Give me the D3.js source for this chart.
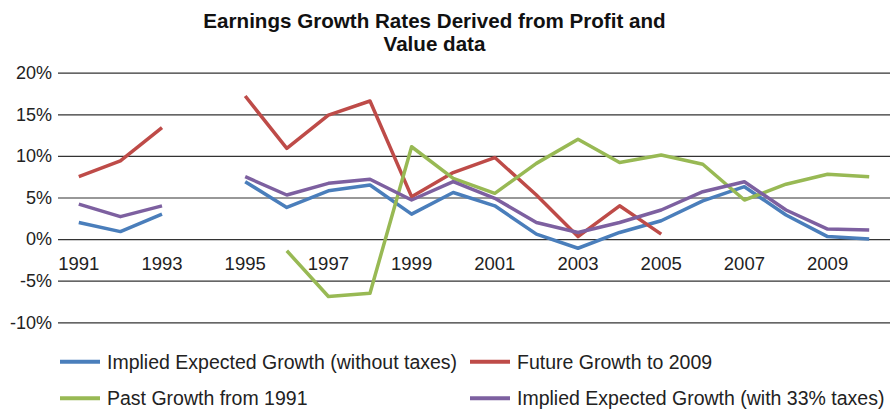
<!DOCTYPE html>
<html>
<head>
<meta charset="utf-8">
<script src="https://cdn.jsdelivr.net/npm/d3@7"></script>
<style>
  html, body { margin: 0; padding: 0; background: #fff; }
  svg { display: block; font-family: "Liberation Sans", Arial, Helvetica, sans-serif; }
</style>
</head>
<body>
<svg id="chart" width="891" height="410"></svg>
<script>
// Years on the category axis
const years = [1991, 1992, 1993, 1994, 1995, 1996, 1997, 1998, 1999, 2000,
               2001, 2002, 2003, 2004, 2005, 2006, 2007, 2008, 2009, 2010];

// Growth rates in percent; null where the series has no value
const impliedNoTax = [2.0, 0.9, 3.0, null, 6.9, 3.8, 5.8, 6.5, 3.0, 5.6,
                      4.0, 0.6, -1.1, 0.8, 2.2, 4.6, 6.3, 2.9, 0.3, 0.0];
const futureGrowth = [7.5, 9.4, 13.4, null, 17.2, 10.9, 14.9, 16.6, 5.1, 8.0,
                      9.8, 5.3, 0.3, 4.0, 0.6, null, null, null, null, null];
const pastGrowth   = [null, null, null, null, null, -1.4, -6.9, -6.5, 11.1, 7.3,
                      5.5, 9.1, 12.0, 9.2, 10.1, 9.0, 4.7, 6.6, 7.8, 7.5];
const impliedTax33 = [4.2, 2.7, 4.0, null, 7.5, 5.3, 6.7, 7.2, 4.7, 6.9,
                      4.9, 2.0, 0.8, 2.0, 3.5, 5.7, 6.9, 3.5, 1.2, 1.1];

// Axis ticks
const yTicks = [-10, -5, 0, 5, 10, 15, 20];
const xTickYears = [1991, 1993, 1995, 1997, 1999, 2001, 2003, 2005, 2007, 2009];

const titleLines = ["Earnings Growth Rates Derived from Profit and", "Value data"];

const series = [
  { name: "Implied Expected Growth (without taxes)", values: impliedNoTax, color: "#4A7EBB" },
  { name: "Future Growth to 2009", values: futureGrowth, color: "#BE4B48" },
  { name: "Past Growth from 1991", values: pastGrowth, color: "#98B954" },
  { name: "Implied Expected Growth (with 33% taxes)", values: impliedTax33, color: "#7D60A0" }
];

const svg = d3.select("#chart");

const plot = { left: 58, right: 890, top: 72.7, bottom: 322.3 };

const x = d3.scaleBand().domain(years).range([plot.left, plot.right]);
const y = d3.scaleLinear().domain([-10, 20]).range([plot.bottom, plot.top]);
const cx = yr => x(yr) + x.bandwidth() / 2;

// Title
svg.append("g").selectAll("text")
  .data(titleLines)
  .join("text")
  .attr("x", 434.5)
  .attr("y", (d, i) => 27.5 + i * 23)
  .attr("text-anchor", "middle")
  .attr("font-size", 20.6)
  .attr("font-weight", "bold")
  .attr("fill", "#111")
  .text(d => d);

// Value axis with horizontal gridlines
const yAxis = svg.append("g")
  .attr("transform", `translate(${plot.left},0)`)
  .call(d3.axisLeft(y)
    .tickValues(yTicks)
    .tickFormat(d => d + "%")
    .tickSize(-(plot.right - plot.left))
    .tickPadding(6));
yAxis.select(".domain").remove();
yAxis.selectAll(".tick line").attr("stroke", "#333").attr("stroke-width", 1.2);
yAxis.selectAll(".tick text")
  .attr("font-size", 18)
  .attr("fill", "#222")
  .attr("font-family", "Liberation Sans, Arial, sans-serif");

// Category axis crossing at zero
const xAxis = svg.append("g")
  .attr("transform", `translate(0,${y(0)})`)
  .call(d3.axisBottom(x)
    .tickValues(xTickYears)
    .tickSize(0)
    .tickPadding(18));
xAxis.select(".domain").remove();
xAxis.selectAll(".tick text")
  .attr("font-size", 18.5)
  .attr("fill", "#222")
  .attr("font-family", "Liberation Sans, Arial, sans-serif");

// Series lines
const line = d3.line()
  .defined(d => d.v !== null)
  .x(d => cx(d.year))
  .y(d => y(d.v));

svg.append("g").selectAll("path")
  .data(series)
  .join("path")
  .attr("fill", "none")
  .attr("stroke", d => d.color)
  .attr("stroke-width", 3.5)
  .attr("stroke-linejoin", "round")
  .attr("d", s => line(years.map((yr, i) => ({ year: yr, v: s.values[i] }))));

// Legend: two rows, two columns
const legendPos = [
  { x: 60, y: 361.7 }, { x: 470, y: 361.7 },
  { x: 60, y: 398.3 }, { x: 470, y: 398.3 }
];
const legend = svg.append("g").selectAll("g")
  .data(series)
  .join("g")
  .attr("transform", (d, i) => `translate(${legendPos[i].x},${legendPos[i].y})`);
legend.append("line")
  .attr("x1", 0).attr("x2", 40)
  .attr("stroke", d => d.color)
  .attr("stroke-width", 4);
legend.append("text")
  .attr("x", 47)
  .attr("y", 6.8)
  .attr("font-size", 19.5)
  .attr("fill", "#222")
  .text(d => d.name);
</script>
</body>
</html>
